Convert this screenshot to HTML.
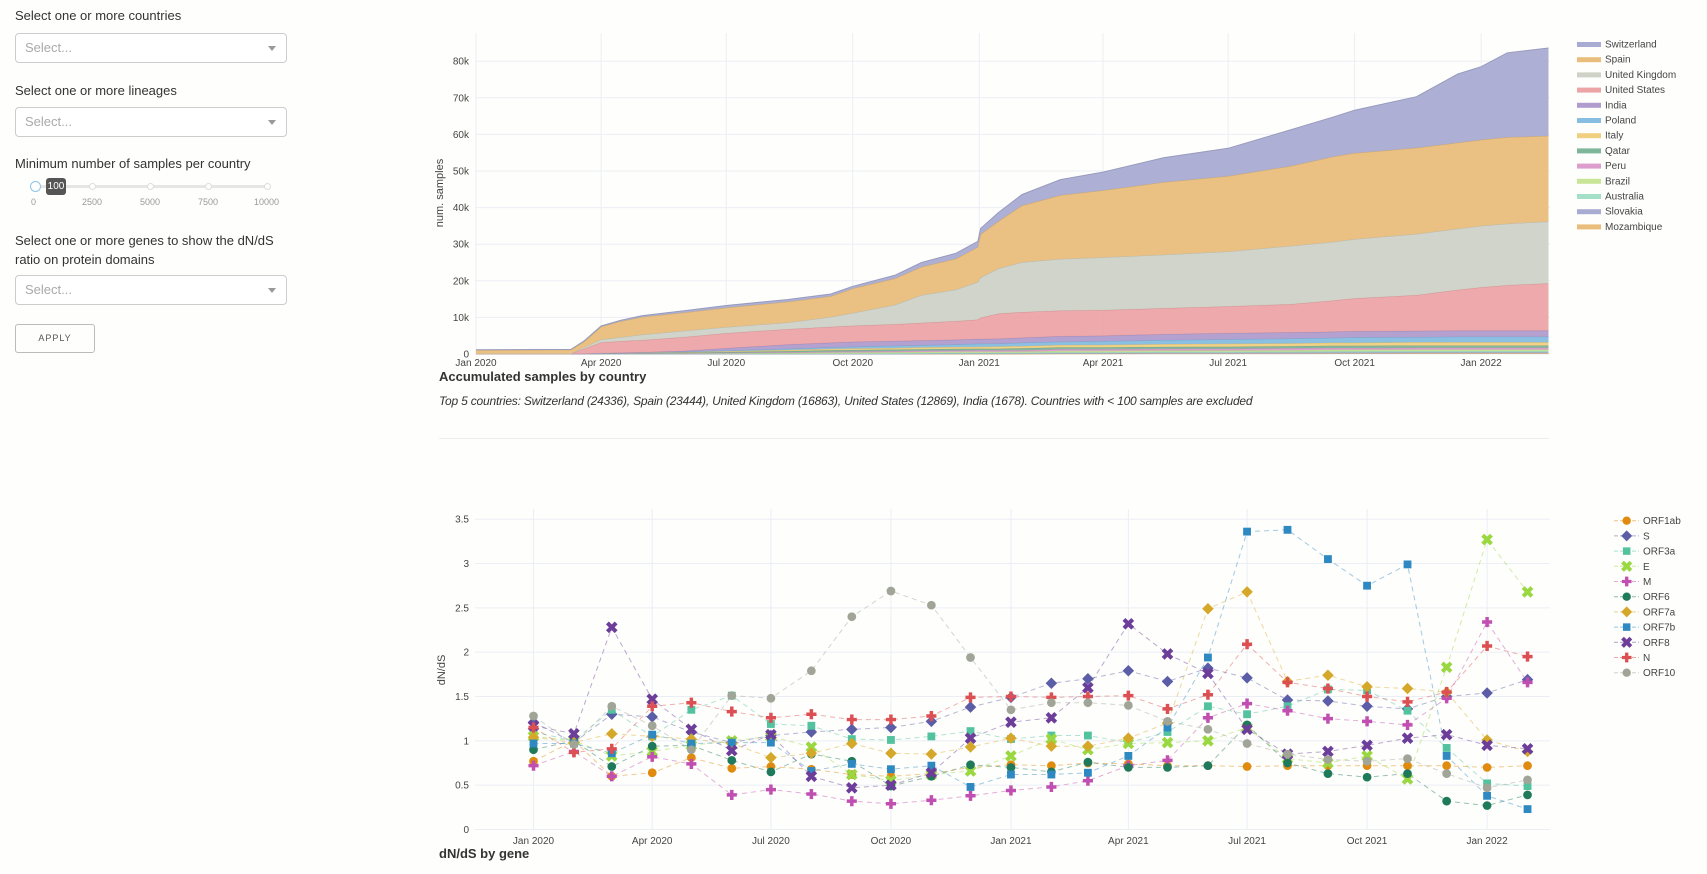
<!DOCTYPE html>
<html><head><meta charset="utf-8">
<style>
body{margin:0;width:1707px;height:874px;background:#fefefc;font-family:"Liberation Sans",sans-serif;color:#333;position:relative;overflow:hidden}
.lbl{position:absolute;left:15px;font-size:13px;color:#333}
.sel{position:absolute;left:15px;width:270px;height:28px;border:1px solid #ccc;border-radius:4px;background:#fff}
.sel span{position:absolute;left:9px;top:6px;font-size:13px;color:#aaa}
.sel i{position:absolute;right:10px;top:12px;width:0;height:0;border-left:4px solid transparent;border-right:4px solid transparent;border-top:5px solid #999}
</style></head><body>
<div class="lbl" style="top:8px">Select one or more countries</div>
<div class="sel" style="top:33px"><span>Select...</span><i></i></div>
<div class="lbl" style="top:83px">Select one or more lineages</div>
<div class="sel" style="top:107px"><span>Select...</span><i></i></div>
<div class="lbl" style="top:156px">Minimum number of samples per country</div>
<div style="position:absolute;left:30px;top:178px;width:250px;height:34px">
 <div style="position:absolute;left:4px;top:7px;width:234px;height:3px;background:#e6e6e6"></div>
 <div style="position:absolute;left:59px;top:5px;width:5px;height:5px;border:1px solid #ddd;border-radius:50%;background:#fff"></div>
 <div style="position:absolute;left:117px;top:5px;width:5px;height:5px;border:1px solid #ddd;border-radius:50%;background:#fff"></div>
 <div style="position:absolute;left:175px;top:5px;width:5px;height:5px;border:1px solid #ddd;border-radius:50%;background:#fff"></div>
 <div style="position:absolute;left:234px;top:5px;width:5px;height:5px;border:1px solid #ddd;border-radius:50%;background:#fff"></div>
 <div style="position:absolute;left:0px;top:3px;width:9px;height:9px;border:1px solid #8ec5ea;border-radius:50%;background:#fff"></div>
 <div style="position:absolute;left:16px;top:0px;width:20px;height:17px;background:#555;border-radius:3px;color:#fff;font-size:10px;text-align:center;line-height:17px">100</div>
 <div style="position:absolute;left:0;top:19px;font-size:9px;color:#999;width:250px">
  <span style="position:absolute;left:1px">0</span><span style="position:absolute;left:52px">2500</span><span style="position:absolute;left:110px">5000</span><span style="position:absolute;left:168px">7500</span><span style="position:absolute;left:224px">10000</span></div>
</div>
<div class="lbl" style="top:231px;line-height:19px">Select one or more genes to show the dN/dS<br>ratio on protein domains</div>
<div class="sel" style="top:275px"><span>Select...</span><i></i></div>
<div style="position:absolute;left:15px;top:324px;width:78px;height:27px;border:1px solid #bbb;border-radius:3px;font-size:9px;letter-spacing:1px;text-align:center;line-height:27px;color:#555">APPLY</div>

<div style="position:absolute;left:439px;top:369px;font-size:13px;font-weight:bold;color:#333">Accumulated samples by country</div>
<div style="position:absolute;left:439px;top:394px;font-size:12px;font-style:italic;color:#333;letter-spacing:-0.2px">Top 5 countries: Switzerland (24336), Spain (23444), United Kingdom (16863), United States (12869), India (1678). Countries with &lt; 100 samples are excluded</div>
<div style="position:absolute;left:439px;top:438px;width:1110px;height:1px;background:#eee"></div>
<div style="position:absolute;left:439px;top:846px;font-size:13px;font-weight:bold;color:#333">dN/dS by gene</div>

<svg id="top" width="1707" height="874" style="position:absolute;left:0;top:0;pointer-events:none" font-family="Liberation Sans, sans-serif"></svg>
<script>
const topDates=["2020-01-01","2020-03-10","2020-03-20","2020-04-01","2020-04-15","2020-05-01","2020-06-01","2020-07-01","2020-08-15","2020-09-15","2020-10-01","2020-11-01","2020-11-20","2020-12-15","2020-12-31","2021-01-02","2021-01-15","2021-02-01","2021-03-01","2021-04-01","2021-05-15","2021-07-01","2021-08-15","2021-09-15","2021-10-01","2021-11-15","2021-12-15","2022-01-01","2022-01-20","2022-02-19"];
const countries=["Mozambique","Slovakia","Australia","Brazil","Peru","Qatar","Italy","Poland","India","United States","United Kingdom","Spain","Switzerland"];
const countryColors=["#e9be7c","#a9acd2","#a4e0c8","#c8e497","#dc9fcd","#7fb59a","#f0d080","#86bde1","#b09ccd","#eca4a6","#cfd2c7","#e9be7c","#a9acd2"];
// cumulative samples (thousands)
const mozambique=[0,0,0,0,0,0,0,0,0,0,0,0,0,0,0,0,0,0,0.05,0.05,0.1,0.1,0.1,0.15,0.15,0.2,0.2,0.2,0.2,0.2];
const slovakia=[0,0,0,0,0,0,0,0,0,0,0,0,0.05,0.1,0.1,0.1,0.1,0.15,0.2,0.2,0.25,0.25,0.3,0.3,0.3,0.3,0.3,0.3,0.3,0.3];
const australia=[0.02,0.02,0.03,0.05,0.05,0.05,0.1,0.1,0.1,0.15,0.15,0.2,0.2,0.2,0.2,0.2,0.2,0.2,0.25,0.25,0.25,0.25,0.25,0.3,0.3,0.3,0.3,0.3,0.3,0.3];
const brazil=[0,0,0,0.05,0.1,0.1,0.1,0.15,0.2,0.25,0.25,0.3,0.3,0.3,0.3,0.3,0.3,0.3,0.35,0.35,0.35,0.35,0.4,0.4,0.4,0.4,0.4,0.4,0.4,0.4];
const peru=[0,0,0,0,0,0.05,0.05,0.1,0.2,0.25,0.3,0.3,0.35,0.35,0.4,0.4,0.4,0.4,0.45,0.45,0.45,0.5,0.5,0.5,0.5,0.5,0.5,0.5,0.5,0.5];
const qatar=[0,0,0,0,0.05,0.1,0.15,0.2,0.3,0.35,0.4,0.4,0.4,0.45,0.45,0.45,0.45,0.5,0.5,0.5,0.55,0.55,0.55,0.6,0.6,0.6,0.6,0.6,0.6,0.6];
const italy=[0,0,0.05,0.1,0.1,0.1,0.15,0.2,0.3,0.4,0.4,0.45,0.5,0.5,0.55,0.55,0.6,0.6,0.65,0.7,0.75,0.8,0.8,0.85,0.85,0.9,0.9,0.9,0.9,0.9];
const poland=[0,0,0,0,0,0.05,0.1,0.2,0.3,0.4,0.5,0.6,0.6,0.7,0.8,0.8,0.8,0.9,0.9,1.0,1.1,1.2,1.3,1.3,1.4,1.4,1.5,1.5,1.5,1.5];
const india=[0,0,0,0.05,0.05,0.05,0.2,0.6,1.2,1.3,1.3,1.3,1.3,1.3,1.3,1.3,1.3,1.4,1.5,1.5,1.6,1.7,1.7,1.7,1.7,1.7,1.7,1.7,1.7,1.7];
const unitedStates=[0,0.05,1.4,2.9,3.15,3.3,3.8,4.1,4.2,4.3,4.4,4.6,4.8,5.1,5.3,5.8,6.9,7.0,7.0,7.0,7.1,7.3,7.7,8.5,9.0,9.8,11.1,11.8,12.4,12.9];
const unitedKingdom=[0.05,0.05,0.4,0.8,1.1,1.5,1.7,1.7,1.8,2.7,3.5,5.3,7.6,8.6,10.3,11.0,12.3,13.6,14.1,14.4,14.6,15.0,15.9,16.0,16.2,16.7,16.7,16.8,16.8,16.9];
const spain=[1.0,1.05,1.6,3.5,4.3,4.8,5.0,5.3,5.7,5.7,6.7,7.2,7.7,8.4,9.5,11.8,12.9,15.5,17.4,18.3,19.8,20.6,21.8,23.3,23.5,23.5,23.5,23.5,23.6,23.4];
const switzerland=[0.1,0.1,0.2,0.2,0.3,0.4,0.5,0.6,0.6,0.6,0.6,0.9,1.2,1.5,1.6,1.6,2.4,3.0,4.3,5.0,6.7,7.6,9.9,10.8,11.7,14.0,18.8,20.0,23.1,24.0];
const countrySeries=[mozambique,slovakia,australia,brazil,peru,qatar,italy,poland,india,unitedStates,unitedKingdom,spain,switzerland];
const topYTicks=[0,10,20,30,40,50,60,70,80];
const topYTickLabels=["0","10k","20k","30k","40k","50k","60k","70k","80k"];
const xTickDates=["2020-01-01","2020-04-01","2020-07-01","2020-10-01","2021-01-01","2021-04-01","2021-07-01","2021-10-01","2022-01-01"];
const xTickLabels=["Jan 2020","Apr 2020","Jul 2020","Oct 2020","Jan 2021","Apr 2021","Jul 2021","Oct 2021","Jan 2022"];

const NS="http://www.w3.org/2000/svg";
const svg=document.getElementById('top');
function mk(tag,attrs,parent){const e=document.createElementNS(NS,tag);for(const k in attrs)e.setAttribute(k,attrs[k]);(parent||svg).appendChild(e);return e;}
const D0=Date.UTC(2020,0,1);
function days(s){const p=s.split('-');return (Date.UTC(+p[0],+p[1]-1,+p[2])-D0)/86400000;}
function xTop(s){return 476+days(s)*1.375;}
function yTop(v){return 354-v*3.66;}
const PL=475,PR=1550;
topYTicks.forEach((t,i)=>{
 const l=mk('line',{x1:PL,x2:PR,y1:yTop(t),y2:yTop(t),stroke:'#ebeef5','stroke-width':1});
 
 
 const tx=mk('text',{x:469,y:yTop(t)+3.5,'text-anchor':'end','font-size':10,fill:'#444'});tx.textContent=topYTickLabels[i];
 
 
});
xTickDates.forEach((d,i)=>{
 const l=mk('line',{x1:xTop(d),x2:xTop(d),y1:33,y2:354,stroke:'#ebeef5','stroke-width':1});
 
 
 const tx=mk('text',{x:xTop(d),y:366,'text-anchor':'middle','font-size':10,fill:'#444'});tx.textContent=xTickLabels[i];
 
 
});
{const t=mk('text',{x:0,y:0,'font-size':11,fill:'#444','text-anchor':'middle',transform:'translate(443,193) rotate(-90)'});t.textContent='num. samples';
 
 }
let base=topDates.map(()=>0);
countrySeries.forEach((ser,ci)=>{
 const topv=base.map((b,i)=>b+ser[i]);
 let d='';
 topDates.forEach((dt,i)=>{d+=(i?'L':'M')+xTop(dt).toFixed(1)+','+yTop(topv[i]).toFixed(1);});
 for(let i=topDates.length-1;i>=0;i--)d+='L'+xTop(topDates[i]).toFixed(1)+','+yTop(base[i]).toFixed(1);
 d+='Z';
 const a=mk('path',{d:d,fill:countryColors[ci],'fill-opacity':0.95,stroke:'none'});
 
 
 let ld='';topDates.forEach((dt,i)=>{ld+=(i?'L':'M')+xTop(dt).toFixed(1)+','+yTop(topv[i]).toFixed(1);});
 const ln=mk('path',{d:ld,fill:'none',stroke:countryColors[ci],'stroke-width':1,filter:'brightness(0.9)'});
 
 
 base=topv;
});
for(let k=countries.length-1,j=0;k>=0;k--,j++){
 const y=44+j*15.2;
 const r=mk('rect',{x:1577,y:y-2,width:24,height:5,fill:countryColors[k]});
 
 
 const t=mk('text',{x:1605,y:y+3.5,'font-size':10,fill:'#444'});t.textContent=countries[k];
 
 
}
</script>

<svg id="bot" width="1707" height="874" style="position:absolute;left:0;top:0;pointer-events:none" font-family="Liberation Sans, sans-serif"></svg>
<script>
const monthDates=["2020-01-01","2020-02-01","2020-03-01","2020-04-01","2020-05-01","2020-06-01","2020-07-01","2020-08-01","2020-09-01","2020-10-01","2020-11-01","2020-12-01","2021-01-01","2021-02-01","2021-03-01","2021-04-01","2021-05-01","2021-06-01","2021-07-01","2021-08-01","2021-09-01","2021-10-01","2021-11-01","2021-12-01","2022-01-01","2022-02-01"];
const genes=["ORF1ab","S","ORF3a","E","M","ORF6","ORF7a","ORF7b","ORF8","N","ORF10"];
const geneColors=["#e08a0e","#5b5ea6","#52c39e","#99d840","#c14fb1","#1f7a5c","#d6a82a","#2e89c2","#6c3d99","#dc4f52","#a0a597"];
const geneSymbols=["circle","diamond","square","x","cross","circle","diamond","square","x","cross","circle"];
const orf1ab=[0.77,1.0,0.6,0.64,0.81,0.69,0.71,0.68,0.62,0.6,0.63,0.7,0.73,0.72,0.75,0.74,0.72,0.72,0.71,0.72,0.72,0.72,0.72,0.72,0.7,0.72];
const sGene=[1.21,0.98,1.3,1.27,1.1,0.98,1.06,1.1,1.13,1.15,1.22,1.38,1.49,1.65,1.7,1.79,1.67,1.82,1.71,1.46,1.45,1.39,1.36,1.5,1.54,1.69];
const orf3a=[1.1,1.0,1.35,1.05,1.35,1.51,1.19,1.17,1.02,1.01,1.05,1.11,1.02,1.06,1.06,0.98,1.1,1.39,1.3,1.39,1.58,1.57,1.34,0.92,0.52,0.49];
const eGene=[1.05,1.0,0.83,0.88,0.95,1.0,1.05,0.93,0.62,0.55,0.62,0.66,0.83,1.02,0.9,0.97,0.98,1.0,1.15,0.8,0.75,0.83,0.57,1.83,3.27,2.68];
const mGene=[0.72,0.88,0.6,0.82,0.74,0.39,0.45,0.4,0.32,0.29,0.33,0.38,0.44,0.48,0.55,0.72,0.78,1.26,1.42,1.34,1.25,1.22,1.18,1.48,2.34,1.66];
const orf6=[0.9,1.0,0.71,0.94,0.95,0.78,0.65,0.85,0.77,0.49,0.6,0.73,0.7,0.65,0.76,0.7,0.7,0.72,1.18,0.75,0.63,0.59,0.63,0.32,0.27,0.39];
const orf7a=[1.04,0.98,1.08,1.05,1.02,0.97,0.81,0.86,0.97,0.86,0.85,0.93,1.03,0.94,0.94,1.03,1.2,2.49,2.68,1.67,1.74,1.61,1.59,1.55,1.01,0.88];
const orf7b=[0.97,0.97,0.86,1.07,0.97,0.98,0.98,0.66,0.74,0.68,0.72,0.48,0.62,0.62,0.64,0.83,1.15,1.94,3.36,3.38,3.05,2.75,2.99,0.83,0.38,0.23];
const orf8=[1.17,1.08,2.28,1.47,1.13,0.89,1.07,0.6,0.47,0.5,0.64,1.03,1.21,1.26,1.6,2.32,1.98,1.76,1.13,0.85,0.88,0.95,1.03,1.07,0.95,0.91];
const nGene=[1.15,0.87,0.91,1.39,1.43,1.33,1.26,1.3,1.24,1.24,1.28,1.49,1.5,1.49,1.5,1.51,1.36,1.52,2.09,1.66,1.59,1.5,1.44,1.55,2.07,1.95];
const orf10=[1.28,0.96,1.39,1.17,0.9,1.51,1.48,1.79,2.4,2.69,2.53,1.94,1.35,1.43,1.43,1.4,1.22,1.13,0.97,0.85,0.79,0.77,0.8,0.63,0.47,0.56];
const geneSeries=[orf1ab,sGene,orf3a,eGene,mGene,orf6,orf7a,orf7b,orf8,nGene,orf10];
const botYTicks=[0,0.5,1,1.5,2,2.5,3,3.5];
const botYTickLabels=["0","0.5","1","1.5","2","2.5","3","3.5"];

(function(){
const NS="http://www.w3.org/2000/svg";
const svg=document.getElementById('bot');
function mk(tag,attrs,parent){const e=document.createElementNS(NS,tag);for(const k in attrs)e.setAttribute(k,attrs[k]);(parent||svg).appendChild(e);return e;}
const D0=Date.UTC(2020,0,1);
function days(s){const p=s.split('-');return (Date.UTC(+p[0],+p[1]-1,+p[2])-D0)/86400000;}
function xB(s){return 533.5+days(s)*1.3045;}
function yB(v){return 829.5-v*88.66;}
const PL=475,PR=1550;
botYTicks.forEach((t,i)=>{
 const l=mk('line',{x1:PL,x2:PR,y1:yB(t),y2:yB(t),stroke:'#ebeef5','stroke-width':1});
 
 
 const tx=mk('text',{x:469,y:yB(t)+3.5,'text-anchor':'end','font-size':10,fill:'#444'});tx.textContent=botYTickLabels[i];
 
 
});
xTickDates.forEach((d,i)=>{
 const l=mk('line',{x1:xB(d),x2:xB(d),y1:509,y2:829.5,stroke:'#ebeef5','stroke-width':1});
 
 
 const tx=mk('text',{x:xB(d),y:844,'text-anchor':'middle','font-size':10,fill:'#444'});tx.textContent=xTickLabels[i];
 
 
});
{const t=mk('text',{x:0,y:0,'font-size':11,fill:'#444','text-anchor':'middle',transform:'translate(445,670) rotate(-90)'});t.textContent='dN/dS';
 
 }
function marker(sym,cx,cy,col,s){
 let e;
 if(sym==='circle')e=mk('circle',{cx:cx,cy:cy,r:s*0.95,fill:col});
 else if(sym==='square')e=mk('rect',{x:cx-s*0.85,y:cy-s*0.85,width:s*1.7,height:s*1.7,fill:col});
 else if(sym==='diamond')e=mk('path',{d:`M${cx},${cy-s*1.25}L${cx+s*1.25},${cy}L${cx},${cy+s*1.25}L${cx-s*1.25},${cy}Z`,fill:col});
 else if(sym==='cross'){const a=s*1.1,b=s*0.38;e=mk('path',{d:`M${cx-b},${cy-a}H${cx+b}V${cy-b}H${cx+a}V${cy+b}H${cx+b}V${cy+a}H${cx-b}V${cy+b}H${cx-a}V${cy-b}H${cx-b}Z`,fill:col});}
 else {const a=s*0.95,w=s*0.4;e=mk('path',{d:`M${cx-a},${cy-a}L${cx+a},${cy+a}M${cx+a},${cy-a}L${cx-a},${cy+a}`,stroke:col,'stroke-width':w*2.2,'stroke-linecap':'butt',fill:'none'});}
 return e;
}
geneSeries.forEach((ser,gi)=>{
 let d='';monthDates.forEach((dt,i)=>{d+=(i?'L':'M')+xB(dt).toFixed(1)+','+yB(ser[i]).toFixed(1);});
 const ln=mk('path',{d:d,fill:'none',stroke:geneColors[gi],'stroke-width':1,'stroke-dasharray':'5,4','stroke-opacity':0.45});
 
 
});
geneSeries.forEach((ser,gi)=>{
 monthDates.forEach((dt,i)=>{
  const m=marker(geneSymbols[gi],xB(dt),yB(ser[i]),geneColors[gi],4.6);
  
  
 });
});
genes.forEach((g,gi)=>{
 const y=520.7+gi*15.2;
 const l=mk('line',{x1:1614,x2:1639,y1:y,y2:y,stroke:geneColors[gi],'stroke-width':1,'stroke-opacity':0.5,'stroke-dasharray':'4,2'});
 
 
 const m=marker(geneSymbols[gi],1626.7,y,geneColors[gi],4.4);
 
 
 const t=mk('text',{x:1643,y:y+3.5,'font-size':10,fill:'#444'});t.textContent=g;
 
 
});
})();
</script>
</body></html>
